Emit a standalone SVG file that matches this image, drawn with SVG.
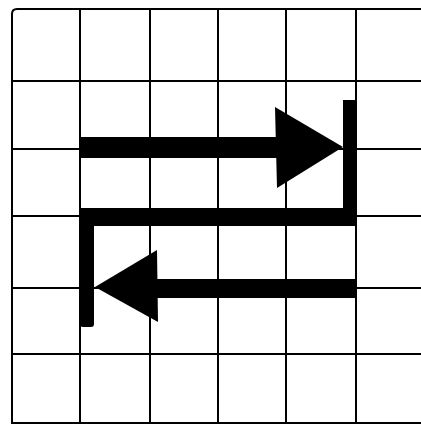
<svg xmlns="http://www.w3.org/2000/svg" width="421" height="425" viewBox="0 0 421 425">
<style>
.g{stroke:#000;stroke-width:2;fill:none;stroke-linecap:square}
.a{fill:#000;stroke:none}
</style>
<rect width="421" height="425" fill="#fff"/>
<g id="grid" class="g">
<path d="M12,423 V14 Q12,9 17,9 H421"/>
<path d="M12,423 H421"/>
<path d="M80,9 V423 M150,9 V423 M218,9 V423 M286,9 V423 M356,9 V423"/>
<path d="M12,81 H421 M12,149 H421 M12,216 H421 M12,288 H421 M12,354 H421"/>
</g>
<g id="connectors">
<g id="arrow-top" class="a">
<rect x="80" y="137" width="197" height="21"/>
<polygon points="275,107 343,147 277,188"/>
</g>
<g id="path-connector" class="a">
<rect x="343" y="100" width="14" height="126"/>
<rect x="80" y="208" width="277" height="18"/>
<rect x="80" y="208" width="14" height="119" rx="3"/>
</g>
<g id="arrow-bottom" class="a">
<rect x="155" y="279" width="202" height="19"/>
<polygon points="95,287 157,250 158,322"/>
</g>
</g>
</svg>
